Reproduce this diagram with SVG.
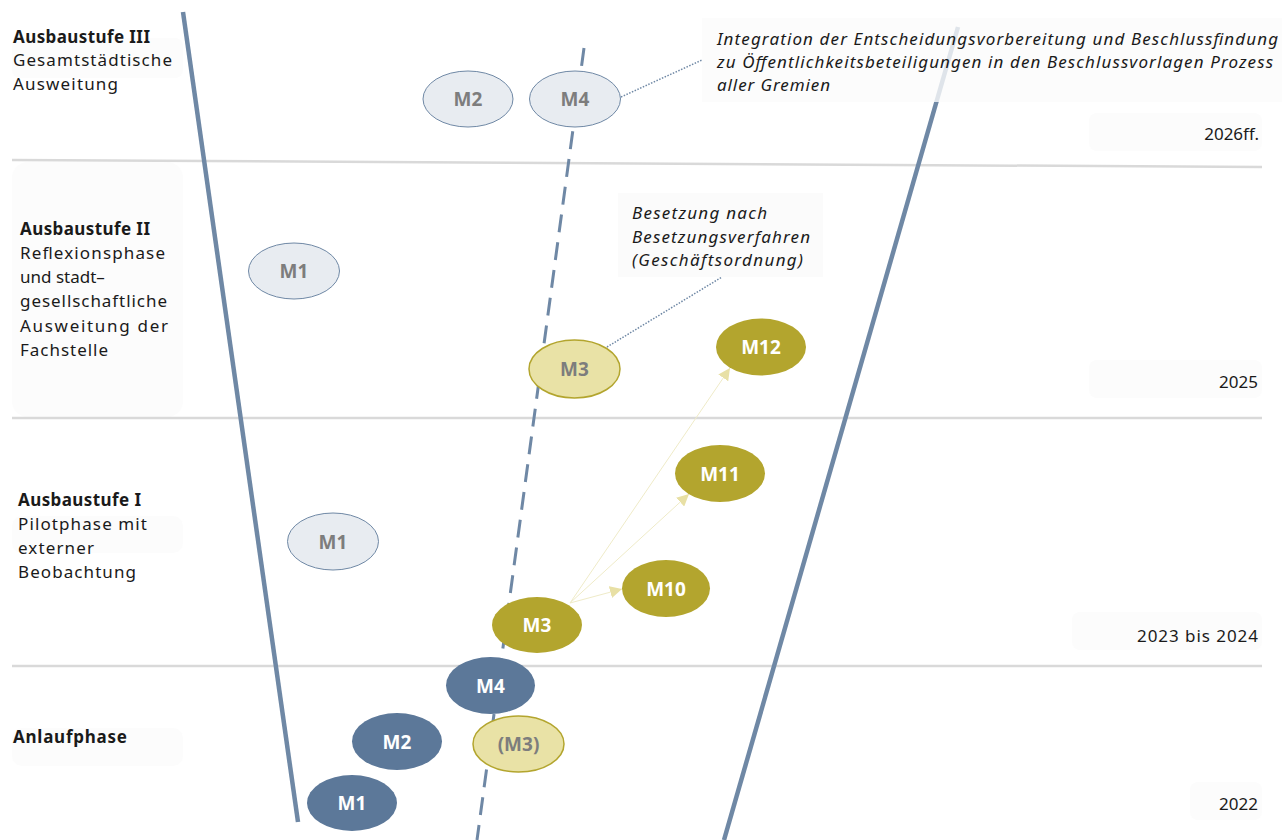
<svg xmlns="http://www.w3.org/2000/svg" width="1282" height="840" viewBox="0 0 1282 840">
  <defs>
    <style>
      .t { font-family: "Noto Sans", "Open Sans", sans-serif; font-size: 17px; fill: #1a1a1a; }
      .b { font-weight: bold; }
      .i { font-style: italic; }
      .yr { font-family: "Noto Sans", "Open Sans", sans-serif; font-size: 17px; fill: #1a1a1a; text-anchor: end; }
      .lbl { font-family: "Noto Sans", "Open Sans", sans-serif; font-size: 19px; font-weight: bold; text-anchor: middle; }
      .pale { fill: #e8ecf1; stroke: #6f88a5; stroke-width: 1; }
      .pale-t { fill: #7d7d7d; }
      .dark { fill: #5c7899; }
      .olive { fill: #b3a52e; }
      .sand { fill: #e9e2a6; stroke: #b3a52e; stroke-width: 1.5; }
      .white-t { fill: #ffffff; }
      .sep { stroke: #d9d9d9; stroke-width: 2.5; fill: none; }
      .rail { stroke: #6f88a5; stroke-width: 4.5; fill: none; }
      .dash { stroke: #6f88a5; stroke-width: 3; stroke-dasharray: 18 10; fill: none; }
      .note { stroke: #6f88a5; stroke-width: 1.5; stroke-dasharray: 1.5 1.5; fill: none; }
      .link { stroke: #efebc8; stroke-width: 1; fill: none; }
      .shade { fill: #fcfcfc; }
    </style>
    <marker id="tip" viewBox="0 0 10 10" refX="10" refY="5" markerWidth="12" markerHeight="12" markerUnits="userSpaceOnUse" orient="auto">
      <path d="M0,0 L10,5 L0,10 Z" fill="#e8e0a5"/>
    </marker>
  </defs>

  <rect width="1282" height="840" fill="#ffffff"/>

  <!-- faint label backgrounds -->
  <g id="label-backgrounds">
    <rect class="shade" x="12" y="38" width="171" height="40" rx="8"/>
    <rect class="shade" x="12" y="162" width="171" height="255" rx="16"/>
    <rect class="shade" x="12" y="516" width="171" height="37" rx="10"/>
    <rect class="shade" x="12" y="728" width="171" height="38" rx="10"/>
    <rect class="shade" x="1089" y="113" width="173" height="38" rx="8"/>
    <rect class="shade" x="1089" y="360" width="173" height="38" rx="8"/>
    <rect class="shade" x="1072" y="612" width="190" height="38" rx="8"/>
    <rect class="shade" x="1190" y="782" width="72" height="38" rx="8"/>
  </g>

  <!-- stage separators -->
  <g id="separators">
    <line class="sep" x1="12" y1="160" x2="1262" y2="167"/>
    <line class="sep" x1="12" y1="418" x2="1262" y2="418"/>
    <line class="sep" x1="12" y1="666" x2="1262" y2="666"/>
  </g>

  <!-- funnel rails and centre axis -->
  <g id="rails">
    <line class="rail" x1="183" y1="12" x2="298" y2="822"/>
    <line class="rail" x1="958" y1="27" x2="724" y2="840"/>
    <line class="dash" x1="584" y1="48" x2="477" y2="840"/>
  </g>

  <!-- callout boxes -->
  <g id="callout-integration">
    <rect x="702" y="18" width="580" height="84" fill="#fbfbfb" fill-opacity="0.8"/>
    <text class="t i" x="717" y="45" textLength="561" lengthAdjust="spacing">Integration der Entscheidungsvorbereitung und Beschlussfindung</text>
    <text class="t i" x="717" y="68" textLength="556" lengthAdjust="spacing">zu Öffentlichkeitsbeteiligungen in den Beschlussvorlagen Prozess</text>
    <text class="t i" x="717" y="91" textLength="113" lengthAdjust="spacing">aller Gremien</text>
  </g>
  <g id="callout-besetzung">
    <rect x="618" y="193" width="205" height="84" fill="#fbfbfb"/>
    <text class="t i" x="632" y="219" textLength="135" lengthAdjust="spacing">Besetzung nach</text>
    <text class="t i" x="632" y="243" textLength="178" lengthAdjust="spacing">Besetzungsverfahren</text>
    <text class="t i" x="632" y="266" textLength="171" lengthAdjust="spacing">(Geschäftsordnung)</text>
  </g>

  <!-- connectors -->
  <g id="connectors">
    <line class="note" x1="621" y1="97" x2="702" y2="60"/>
    <line class="note" x1="607" y1="347" x2="722" y2="277"/>
    <line class="link" x1="570" y1="603" x2="622" y2="589" marker-end="url(#tip)"/>
    <line class="link" x1="570" y1="603" x2="689" y2="494" marker-end="url(#tip)"/>
    <line class="link" x1="570" y1="603" x2="730" y2="368" marker-end="url(#tip)"/>
  </g>

  <!-- stage labels -->
  <g id="stage-3">
    <text class="t b" x="13" y="43" textLength="137" lengthAdjust="spacing">Ausbaustufe III</text>
    <text class="t" x="13" y="66" textLength="159" lengthAdjust="spacing">Gesamtstädtische</text>
    <text class="t" x="13" y="90" textLength="105" lengthAdjust="spacing">Ausweitung</text>
  </g>
  <g id="stage-2">
    <text class="t b" x="20" y="235" textLength="130" lengthAdjust="spacing">Ausbaustufe II</text>
    <text class="t" x="20" y="259" textLength="145" lengthAdjust="spacing">Reflexionsphase</text>
    <text class="t" x="20" y="283">und stadt–</text>
    <text class="t" x="20" y="307" textLength="147" lengthAdjust="spacing">gesellschaftliche</text>
    <text class="t" x="20" y="332" textLength="148" lengthAdjust="spacing">Ausweitung der</text>
    <text class="t" x="20" y="356" textLength="88" lengthAdjust="spacing">Fachstelle</text>
  </g>
  <g id="stage-1">
    <text class="t b" x="18" y="506" textLength="123" lengthAdjust="spacing">Ausbaustufe I</text>
    <text class="t" x="18" y="530" textLength="129" lengthAdjust="spacing">Pilotphase mit</text>
    <text class="t" x="18" y="554" textLength="76" lengthAdjust="spacing">externer</text>
    <text class="t" x="18" y="578" textLength="118" lengthAdjust="spacing">Beobachtung</text>
  </g>
  <g id="stage-0">
    <text class="t b" x="13" y="743" textLength="114" lengthAdjust="spacing">Anlaufphase</text>
  </g>

  <!-- years -->
  <g id="years">
    <text class="yr" x="1259" y="140">2026ff.</text>
    <text class="yr" x="1258" y="388">2025</text>
    <text class="yr" x="1258" y="642" textLength="121" lengthAdjust="spacing">2023 bis 2024</text>
    <text class="yr" x="1258" y="810">2022</text>
  </g>

  <!-- measures -->
  <g id="m2-stage3"><ellipse class="pale" cx="468" cy="99" rx="45" ry="28"/><text class="lbl pale-t" x="468" y="106">M2</text></g>
  <g id="m4-stage3"><ellipse class="pale" cx="575" cy="99" rx="45.5" ry="28"/><text class="lbl pale-t" x="575" y="106">M4</text></g>
  <g id="m1-stage2"><ellipse class="pale" cx="294" cy="271" rx="45.5" ry="28"/><text class="lbl pale-t" x="294" y="278">M1</text></g>
  <g id="m3-stage2"><ellipse class="sand" cx="574.5" cy="369" rx="45.5" ry="29"/><text class="lbl pale-t" x="574.5" y="376">M3</text></g>
  <g id="m12"><ellipse class="olive" cx="761" cy="347" rx="45" ry="28.5"/><text class="lbl white-t" x="761" y="354">M12</text></g>
  <g id="m11"><ellipse class="olive" cx="720" cy="473.5" rx="45" ry="28.5"/><text class="lbl white-t" x="720" y="480.5">M11</text></g>
  <g id="m1-stage1"><ellipse class="pale" cx="333" cy="541.5" rx="45.5" ry="28.5"/><text class="lbl pale-t" x="333" y="548.5">M1</text></g>
  <g id="m10"><ellipse class="olive" cx="666" cy="588.5" rx="44" ry="28.5"/><text class="lbl white-t" x="666" y="595.5">M10</text></g>
  <g id="m3-stage1"><ellipse class="olive" cx="537" cy="625" rx="45" ry="28"/><text class="lbl white-t" x="537" y="632">M3</text></g>
  <g id="m4-start"><ellipse class="dark" cx="490.5" cy="685.5" rx="44.5" ry="28.5"/><text class="lbl white-t" x="490.5" y="692.5">M4</text></g>
  <g id="m3-start"><ellipse class="sand" cx="518.5" cy="744" rx="45.5" ry="28"/><text class="lbl pale-t" x="518.5" y="751">(M3)</text></g>
  <g id="m2-start"><ellipse class="dark" cx="397" cy="741.5" rx="45" ry="28.5"/><text class="lbl white-t" x="397" y="748.5">M2</text></g>
  <g id="m1-start"><ellipse class="dark" cx="352" cy="803" rx="45" ry="28"/><text class="lbl white-t" x="352" y="810">M1</text></g>
</svg>
